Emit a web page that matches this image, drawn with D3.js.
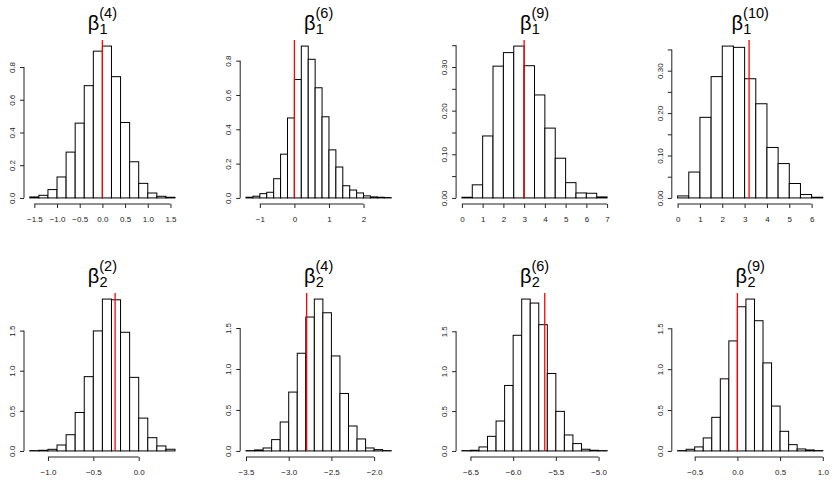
<!DOCTYPE html>
<html>
<head>
<meta charset="utf-8">
<script src="https://cdn.jsdelivr.net/npm/d3@7"></script>
<style>
body{margin:0;background:#fff}
text{font-family:"Liberation Sans",Arial,sans-serif}
</style>
</head>
<body>
<svg id="chart" width="835" height="481"></svg>
<script>
// panel titles: beta_sub^(sup)
var subs = ["1","1","1","1","2","2","2","2"];
var sups = ["4","6","9","10","2","4","6","9"];
// histogram breaks: first edge and bin width
var breakStart = [-1.6, -1.4, 0, 0, -1.2, -3.5, -6.6, -0.7];
var binWidth = [0.2, 0.2, 0.5, 0.5, 0.1, 0.1, 0.1, 0.1];
// red reference line (true value)
var trueVal = [0, 0, 3, 3.2, -0.26, -2.79, -5.63, 0];

var dens_b1_4 = [0.006,0.016,0.051,0.128,0.280,0.457,0.686,0.897,0.928,0.741,0.461,0.221,0.089,0.030,0.010,0.004];
var dens_b1_6 = [0.004,0.010,0.025,0.033,0.112,0.255,0.466,0.690,0.885,0.808,0.642,0.473,0.280,0.180,0.071,0.046,0.029,0.012,0.006,0.004,0.002];
var dens_b1_9 = [0.0015,0.030,0.142,0.302,0.333,0.348,0.303,0.236,0.160,0.091,0.035,0.0114,0.0107,0.0023];
var dens_b1_10 = [0.0047,0.061,0.190,0.286,0.358,0.355,0.281,0.222,0.119,0.081,0.034,0.008,0.0016];
var dens_b2_2 = [0.004,0.008,0.020,0.074,0.202,0.479,0.926,1.496,1.893,1.884,1.479,0.917,0.409,0.165,0.062,0.021];
var dens_b2_4 = [0.004,0.012,0.036,0.138,0.353,0.718,1.192,1.634,1.853,1.686,1.159,0.701,0.304,0.146,0.036,0.016,0.004];
var dens_b2_6 = [0.004,0.008,0.050,0.183,0.375,0.821,1.450,1.904,1.854,1.583,0.971,0.496,0.200,0.092,0.021,0.008,0.004];
var dens_b2_9 = [0.004,0.020,0.049,0.159,0.411,0.882,1.346,1.764,1.858,1.593,1.077,0.549,0.240,0.077,0.024,0.012,0.004];
var densities = [dens_b1_4, dens_b1_6, dens_b1_9, dens_b1_10, dens_b2_2, dens_b2_4, dens_b2_6, dens_b2_9];

var xTicks = [
    [-1.5,-1,-0.5,0,0.5,1,1.5],
    [-1,0,1,2],
    [0,1,2,3,4,5,6,7],
    [0,1,2,3,4,5,6],
    [-1,-0.5,0],
    [-3.5,-3,-2.5,-2],
    [-6.5,-6,-5.5,-5],
    [-0.5,0,0.5,1]
];
var xTickLabels = [
    ["\u22121.5","\u22121.0","\u22120.5","0.0","0.5","1.0","1.5"],
    ["\u22121","0","1","2"],
    ["0","1","2","3","4","5","6","7"],
    ["0","1","2","3","4","5","6"],
    ["\u22121.0","\u22120.5","0.0"],
    ["\u22123.5","\u22123.0","\u22122.5","\u22122.0"],
    ["\u22126.5","\u22126.0","\u22125.5","\u22125.0"],
    ["\u22120.5","0.0","0.5","1.0"]
];
var yTicks = [
    [0,0.2,0.4,0.6,0.8],
    [0,0.2,0.4,0.6,0.8],
    [0,0.05,0.1,0.15,0.2,0.25,0.3,0.35],
    [0,0.05,0.1,0.15,0.2,0.25,0.3,0.35],
    [0,0.5,1,1.5],
    [0,0.5,1,1.5],
    [0,0.5,1,1.5],
    [0,0.5,1,1.5]
];
var yTickLabels = [
    ["0.0","0.2","0.4","0.6","0.8"],
    ["0.0","0.2","0.4","0.6","0.8"],
    ["0.00","","0.10","","0.20","","0.30",""],
    ["0.00","","0.10","","0.20","","0.30",""],
    ["0.0","0.5","1.0","1.5"],
    ["0.0","0.5","1.0","1.5"],
    ["0.0","0.5","1.0","1.5"],
    ["0.0","0.5","1.0","1.5"]
];

var svg = d3.select("#chart");
var colLeft = [24, 240.2, 456.1, 671.8];
var rowTop = [40, 293];
var plotW = 156.8, plotH = 164;

for (var i = 0; i < 8; i++) {
    var col = i % 4, row = Math.floor(i / 4);
    var L = colLeft[col], T = rowTop[row], B = T + plotH;
    var d = densities[i], lo = breakStart[i], w = binWidth[i];
    var hi = lo + d.length * w;
    var ext = 0.04 * (hi - lo);
    var x = d3.scaleLinear().domain([lo - ext, hi + ext]).range([L, L + plotW]);
    var m = d3.max(d);
    var y = d3.scaleLinear().domain([-0.04 * m, 1.04 * m]).range([B, T]);
    var g = svg.append("g");

    // bars
    g.selectAll("rect.bar").data(d).enter().append("rect")
        .attr("class", "bar")
        .attr("x", function(v, j){ return x(lo + j * w); })
        .attr("width", function(v, j){ return x(lo + (j + 1) * w) - x(lo + j * w); })
        .attr("y", function(v){ return y(v); })
        .attr("height", function(v){ return y(0) - y(v); })
        .attr("fill", "white")
        .attr("stroke", "black")
        .attr("stroke-width", 1);

    // red line
    g.append("line")
        .attr("x1", x(trueVal[i])).attr("x2", x(trueVal[i]))
        .attr("y1", y(0)).attr("y2", T)
        .attr("stroke", "red")
        .attr("stroke-width", 1.3);

    // x axis
    var xl = xTickLabels[i];
    var xt = xTicks[i];
    var xa = g.append("g").attr("transform", "translate(0," + B + ")")
        .call(d3.axisBottom(x).tickValues(xt).tickSize(4).tickPadding(8)
            .tickFormat(function(v, k){ return xl[k]; }));
    xa.select(".domain").remove();
    xa.append("line").attr("x1", x(xt[0])).attr("x2", x(xt[xt.length - 1]))
        .attr("stroke", "#222");
    xa.selectAll(".tick line").attr("stroke", "#222");
    xa.selectAll("text").attr("font-size", "8px").attr("fill", "#222")
        .style("font-family", "'Liberation Sans', Arial, sans-serif");

    // y axis
    var yl = yTickLabels[i];
    var yt = yTicks[i];
    var ya = g.append("g").attr("transform", "translate(" + L + ",0)")
        .call(d3.axisLeft(y).tickValues(yt).tickSize(4)
            .tickFormat(function(v, k){ return yl[k]; }));
    ya.select(".domain").remove();
    ya.append("line").attr("y1", y(yt[0])).attr("y2", y(yt[yt.length - 1]))
        .attr("stroke", "#222");
    ya.selectAll(".tick line").attr("stroke", "#222");
    ya.selectAll("text")
        .attr("x", 0).attr("y", 0).attr("dy", null)
        .attr("text-anchor", "middle")
        .attr("transform", "translate(-9,0) rotate(-90)")
        .attr("font-size", "8px").attr("fill", "#222")
        .style("font-family", "'Liberation Sans', Arial, sans-serif");

    // title
    var tg = g.append("g");
    var beta = tg.append("text").attr("x", 0).attr("y", T - 9.8)
        .attr("font-size", "20px").text("\u03b2");
    var bw = beta.node().getComputedTextLength();
    var sb = tg.append("text").attr("x", bw + 0.3).attr("y", T - 5.7)
        .attr("font-size", "14.5px").text(subs[i]);
    var sp = tg.append("text").attr("x", bw).attr("y", T - 22.2)
        .attr("font-size", "14.5px").text("(" + sups[i] + ")");
    var tw = bw + Math.max(sb.node().getComputedTextLength(), sp.node().getComputedTextLength());
    tg.attr("transform", "translate(" + (L + plotW / 2 - tw / 2) + ",0)");
}
</script>
</body>
</html>
